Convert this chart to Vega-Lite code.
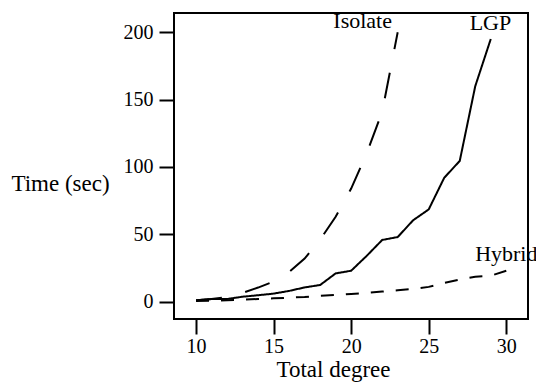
{
  "$schema": "https://vega.github.io/schema/vega-lite/v6.json",
  "autosize": "none",
  "padding": {"left": 174, "top": 13, "right": 8, "bottom": 64},
  "width": 354,
  "height": 306,
  "background": "white",
  "config": {
    "view": {"stroke": "black", "strokeWidth": 2},
    "font": "Liberation Serif",
    "axis": {
      "domain": false, "grid": false, "tickColor": "black", "tickWidth": 2, "tickSize": 15,
      "labelFont": "Liberation Serif", "labelFontSize": 20, "labelColor": "black",
      "titleFont": "Liberation Serif", "titleFontSize": 23, "titleColor": "black", "titleFontWeight": "normal"
    }
  },
  "datasets": {
    "lines": [
      {"degree": 10, "time": 1, "method": "LGP"},
      {"degree": 11, "time": 2, "method": "LGP"},
      {"degree": 12, "time": 2, "method": "LGP"},
      {"degree": 13, "time": 3.7, "method": "LGP"},
      {"degree": 14, "time": 4.8, "method": "LGP"},
      {"degree": 15, "time": 6, "method": "LGP"},
      {"degree": 16, "time": 8, "method": "LGP"},
      {"degree": 17, "time": 10.6, "method": "LGP"},
      {"degree": 18, "time": 12.4, "method": "LGP"},
      {"degree": 19, "time": 21, "method": "LGP"},
      {"degree": 20, "time": 23, "method": "LGP"},
      {"degree": 21, "time": 34, "method": "LGP"},
      {"degree": 22, "time": 45.8, "method": "LGP"},
      {"degree": 23, "time": 48, "method": "LGP"},
      {"degree": 24, "time": 60.5, "method": "LGP"},
      {"degree": 25, "time": 68.5, "method": "LGP"},
      {"degree": 26, "time": 92, "method": "LGP"},
      {"degree": 27, "time": 104.5, "method": "LGP"},
      {"degree": 28, "time": 160, "method": "LGP"},
      {"degree": 29, "time": 195, "method": "LGP"},
      {"degree": 10, "time": 1, "method": "Isolate"},
      {"degree": 11, "time": 2, "method": "Isolate"},
      {"degree": 12, "time": 3.5, "method": "Isolate"},
      {"degree": 13, "time": 6.5, "method": "Isolate"},
      {"degree": 14, "time": 10.5, "method": "Isolate"},
      {"degree": 15, "time": 15, "method": "Isolate"},
      {"degree": 16, "time": 22, "method": "Isolate"},
      {"degree": 17, "time": 32, "method": "Isolate"},
      {"degree": 18, "time": 46, "method": "Isolate"},
      {"degree": 19, "time": 63, "method": "Isolate"},
      {"degree": 20, "time": 84, "method": "Isolate"},
      {"degree": 21, "time": 110, "method": "Isolate"},
      {"degree": 22, "time": 141, "method": "Isolate"},
      {"degree": 23, "time": 200, "method": "Isolate"},
      {"degree": 10, "time": 0.5, "method": "Hybrid"},
      {"degree": 11, "time": 0.8, "method": "Hybrid"},
      {"degree": 12, "time": 1.1, "method": "Hybrid"},
      {"degree": 13, "time": 1.5, "method": "Hybrid"},
      {"degree": 14, "time": 2, "method": "Hybrid"},
      {"degree": 15, "time": 2.5, "method": "Hybrid"},
      {"degree": 16, "time": 3, "method": "Hybrid"},
      {"degree": 17, "time": 3.5, "method": "Hybrid"},
      {"degree": 18, "time": 4.3, "method": "Hybrid"},
      {"degree": 19, "time": 5, "method": "Hybrid"},
      {"degree": 20, "time": 5.8, "method": "Hybrid"},
      {"degree": 21, "time": 6.5, "method": "Hybrid"},
      {"degree": 22, "time": 7.5, "method": "Hybrid"},
      {"degree": 23, "time": 8.5, "method": "Hybrid"},
      {"degree": 24, "time": 9.5, "method": "Hybrid"},
      {"degree": 25, "time": 11, "method": "Hybrid"},
      {"degree": 26, "time": 14, "method": "Hybrid"},
      {"degree": 27, "time": 16.5, "method": "Hybrid"},
      {"degree": 28, "time": 18.5, "method": "Hybrid"},
      {"degree": 29, "time": 19.3, "method": "Hybrid"},
      {"degree": 30, "time": 23, "method": "Hybrid"}
    ],
    "labels": [
      {"degree": 20.74, "time": 208.6, "label": "Isolate"},
      {"degree": 28.98, "time": 206.9, "label": "LGP"},
      {"degree": 30.0, "time": 35.4, "label": "Hybrid"}
    ]
  },
  "layer": [
    {
      "data": {"name": "lines"},
      "mark": {"type": "line", "color": "black", "strokeWidth": 2},
      "encoding": {
        "x": {
          "field": "degree", "type": "quantitative",
          "scale": {"domain": [8.58, 31.4], "nice": false, "zero": false},
          "axis": {"values": [10, 15, 20, 25, 30], "title": "Total degree", "labelPadding": 2,
                   "titleX": 159, "titleY": 50, "titleBaseline": "middle", "titleAlign": "center", "titleAnchor": null}
        },
        "y": {
          "field": "time", "type": "quantitative",
          "scale": {"domain": [-12.84, 214.3], "nice": false, "zero": false},
          "axis": {"values": [0, 50, 100, 150, 200], "title": "Time (sec)", "labelPadding": 6,
                   "titleAngle": 0, "titleX": -114, "titleY": 170, "titleAlign": "center", "titleBaseline": "middle", "titleAnchor": null}
        },
        "strokeDash": {
          "field": "method", "type": "nominal",
          "scale": {"domain": ["LGP", "Isolate", "Hybrid"], "range": [[1, 0], [26, 24], [13, 12]]},
          "legend": null
        },
        "detail": {"field": "method"}
      }
    },
    {
      "data": {"name": "labels"},
      "mark": {"type": "text", "color": "black", "font": "Liberation Serif", "fontSize": 22, "align": "center", "baseline": "middle"},
      "encoding": {
        "x": {"field": "degree", "type": "quantitative"},
        "y": {"field": "time", "type": "quantitative"},
        "text": {"field": "label"}
      }
    }
  ]
}
